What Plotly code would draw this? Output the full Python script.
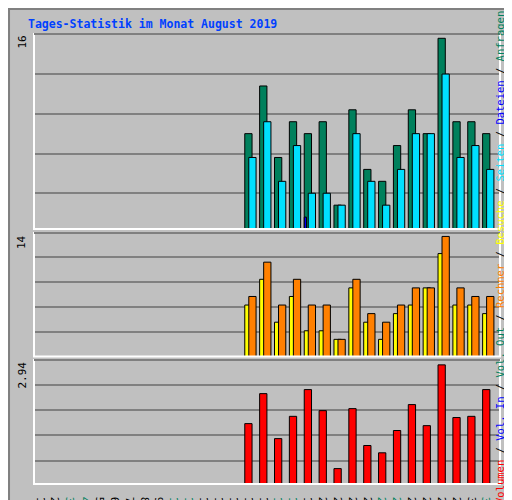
import plotly.graph_objects as go

days = list(range(1, 32))
weekend = [3, 4, 10, 11, 17, 18, 24, 25, 31]

# values per day (1..31), zeros before the 15th
anfragen = [0]*14 + [8, 12, 6, 9, 8, 9, 2, 10, 5, 4, 7, 10, 8, 16, 9, 9, 8]
dateien = [0]*14 + [0, 0, 0, 0, 1, 0, 0, 0, 0, 0, 0, 0, 0, 0, 0, 0, 0]
seiten = [0]*14 + [6, 9, 4, 7, 3, 3, 2, 8, 4, 2, 5, 8, 8, 13, 6, 7, 5]
besuche = [0]*14 + [6, 9, 4, 7, 3, 3, 2, 8, 4, 2, 5, 6, 8, 12, 6, 6, 5]
rechner = [0]*14 + [7, 11, 6, 9, 6, 6, 2, 9, 5, 4, 6, 8, 8, 14, 8, 7, 7]
volumen = [0]*14 + [1.49, 2.23, 1.12, 1.67, 2.33, 1.81, 0.38, 1.86, 0.95, 0.77,
                    1.32, 1.96, 1.44, 2.94, 1.64, 1.67, 2.33]

bg = "#c0c0c0"
mono = "DejaVu Sans Mono"

def bars(vals, color, off, w, ax):
    return go.Bar(x=days, y=vals, offset=off, width=w, marker_color=color,
                  marker_line_color="black", marker_line_width=1,
                  xaxis="x" + ax, yaxis="y" + ax, hoverinfo="skip", showlegend=False)

fig = go.Figure()
fig.add_trace(bars(anfragen, "#00805c", -0.36, 0.49, ""))
fig.add_trace(bars(dateien, "#0000ff", -0.36, 0.15, ""))
fig.add_trace(bars(seiten, "#00e0ff", -0.09, 0.49, ""))
fig.add_trace(bars(besuche, "#ffff00", -0.36, 0.49, "2"))
fig.add_trace(bars(rechner, "#ff8000", -0.09, 0.49, "2"))
fig.add_trace(bars(volumen, "#ff0000", -0.36, 0.49, "3"))

W, H = 512, 500
x0, x1 = 26 / W, 492 / W
panels = [(26, 221, 16.36, [13.0, 9.65, 6.3, 2.98], "16"),
          (225, 348.5, 14.4, [11.6, 8.68, 5.77, 2.85], "14"),
          (352, 476, 3.06, [2.44, 1.82, 1.2, 0.58], "2.94")]

ticktext = ["<span style='color:%s'>%d</span>" % ("#00805c" if d in weekend else "black", d)
            for d in days]

layout = dict(width=W, height=H, margin=dict(l=0, r=0, t=0, b=0, autoexpand=False),
              paper_bgcolor=bg, plot_bgcolor=bg, barmode="overlay",
              font=dict(family=mono, size=11, color="black"))
shapes = []
annotations = []
for i, (top, bot, rng, grid, lab) in enumerate(panels):
    sfx = "" if i == 0 else str(i + 1)
    layout["xaxis" + sfx] = dict(domain=[x0, x1], range=[0.46, 31.81], anchor="y" + sfx,
                                 showgrid=False, zeroline=False, automargin=False,
                                 tickvals=days if i == 2 else [], ticktext=ticktext,
                                 ticklen=4, ticks="outside", tickcolor=bg,
                                 tickfont=dict(family=mono, size=11))
    layout["yaxis" + sfx] = dict(domain=[1 - bot / H, 1 - top / H], range=[0, rng],
                                 anchor="x" + sfx, tickvals=grid, showticklabels=False,
                                 automargin=False,
                                 gridcolor="#808080", gridwidth=1.5, zeroline=False)
    shapes.append(dict(type="rect", xref="paper", yref="paper", x0=x0, x1=x1,
                       y0=1 - bot / H, y1=1 - top / H, line=dict(color="white", width=2)))
    shapes.append(dict(type="line", xref="paper", yref="paper", x0=x0, x1=x1,
                       y0=1 - top / H, y1=1 - top / H, line=dict(color="black", width=1)))
    annotations.append(dict(text=lab, textangle=-90, x=14 / W, y=1 - top / H,
                            xref="paper", yref="paper", showarrow=False,
                            xanchor="center", yanchor="top",
                            font=dict(family=mono, size=11)))

shapes.append(dict(type="rect", xref="paper", yref="paper", x0=0.002, x1=0.998,
                   y0=0.002, y1=0.998, line=dict(color="#808080", width=2)))

annotations.append(dict(text="<b>Tages-Statistik im Monat August 2019</b>", x=18 / W, y=1 - 7 / H,
                        xref="paper", yref="paper", showarrow=False, xanchor="left",
                        yanchor="top", font=dict(family=mono, size=11.5, color="#0040ff"),
                        ))
sep = "<span style='color:black'> / </span>"
legend = sep.join([
    "<span style='color:#ff0000'>Volumen</span>",
    "<span style='color:#0000ff'>Vol. In</span>",
    "<span style='color:#00805c'>Vol. Out</span>",
    "<span style='color:#ff8000'>Rechner</span>",
    "<span style='color:#ffff00'>Besuche</span>",
    "<span style='color:#00e0ff'>Seiten</span>",
    "<span style='color:#0000ff'>Dateien</span>",
    "<span style='color:#00805c'>Anfragen</span>"])
annotations.append(dict(text=legend, textangle=-90, x=500 / W, y=1 - 250 / H,
                        xref="paper", yref="paper", showarrow=False,
                        font=dict(family=mono, size=10.5)))
layout["shapes"] = shapes
layout["annotations"] = annotations
fig.update_layout(**layout)
fig.write_html("out.html")
